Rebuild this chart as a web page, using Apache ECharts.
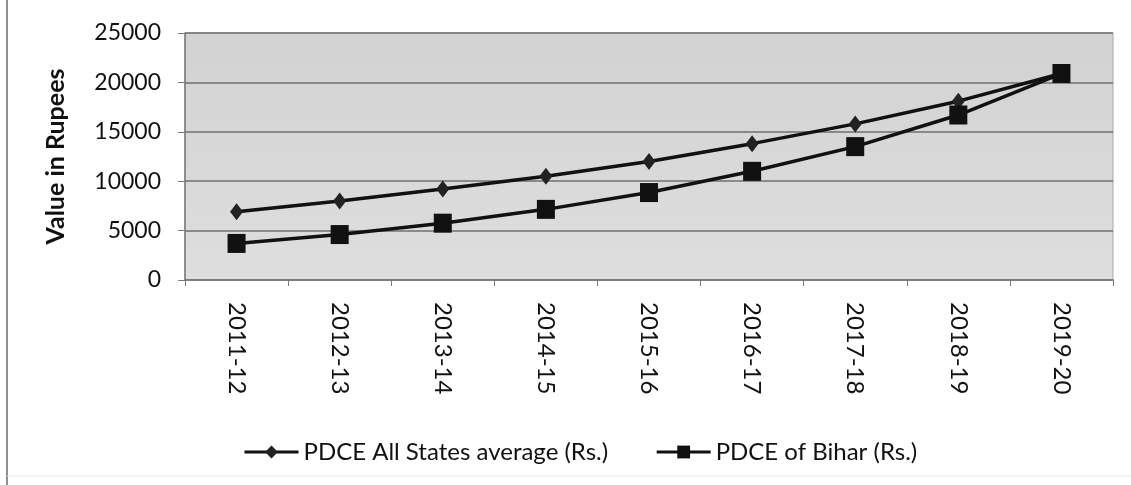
<!DOCTYPE html>
<html><head><meta charset="utf-8">
<script src="https://cdn.jsdelivr.net/npm/echarts@6/dist/echarts.min.js"></script>
<style>html,body{margin:0;padding:0;background:#fff}#c{width:1131px;height:485px}</style>
</head><body><div id="c"></div>
<script>
const categories = ['2011-12','2012-13','2013-14','2014-15','2015-16','2016-17','2017-18','2018-19','2019-20'];
const allStates = [6900, 8000, 9200, 10500, 12000, 13800, 15800, 18100, 20900];
const bihar = [3700, 4600, 5750, 7150, 8850, 11000, 13500, 16700, 20900];
const seriesNames = ['PDCE All States average (Rs.)', 'PDCE of Bihar (Rs.)'];

const font = 'Lato, "Liberation Sans", sans-serif';
const chart = echarts.init(document.getElementById('c'));
chart.setOption({
  animation: false,
  backgroundColor: '#ffffff',
  graphic: [
    {type:'line', shape:{x1:7,y1:0,x2:7,y2:485}, style:{stroke:'#8f8f8f', lineWidth:2}},
    {type:'line', shape:{x1:7,y1:476,x2:1131,y2:476}, style:{stroke:'#e6e6e6', lineWidth:1}}
  ],
  grid: {left:185, right:18, top:33, bottom:205, show:true,
    backgroundColor: new echarts.graphic.LinearGradient(0,0,0,1,[{offset:0,color:'#d2d2d2'},{offset:1,color:'#dedede'}]),
    borderColor:'#a8a8a8', borderWidth:1},
  legend: {top:435, left:238, itemGap:47, itemWidth:54, itemHeight:16,
    lineStyle:{width:3},
    textStyle:{fontFamily:font, fontSize:24, color:'#111'}, data: seriesNames},
  xAxis: {type:'category', data: categories, boundaryGap:true,
    axisLine:{lineStyle:{color:'#7a7a7a', width:1.5}},
    axisTick:{show:true, length:6, lineStyle:{color:'#7a7a7a'}},
    axisLabel:{rotate:-90, fontFamily:font, fontSize:24, color:'#111', margin:22}},
  yAxis: {type:'value', min:0, max:25000, interval:5000,
    name:'Value in Rupees', nameLocation:'middle', nameGap:117,
    nameTextStyle:{fontFamily:font, fontSize:25, fontWeight:'bold', color:'#111'},
    axisLine:{show:true, lineStyle:{color:'#7a7a7a', width:1.5}},
    axisTick:{show:true, length:7, lineStyle:{color:'#7a7a7a'}},
    axisLabel:{fontFamily:font, fontSize:23, color:'#111', margin:24, formatter: v => String(v)},
    splitLine:{lineStyle:{color:'#6f6f6f', width:1.5}}},
  series: [
    {name: seriesNames[0], type:'line', data: allStates, symbol:'diamond', symbolSize:[13,17],
      lineStyle:{color:'#111', width:3.5}, itemStyle:{color:'#222'}},
    {name: seriesNames[1], type:'line', data: bihar, symbol:'rect', symbolSize:[18,19],
      lineStyle:{color:'#111', width:3.5}, itemStyle:{color:'#111'}}
  ]
});
</script></body></html>
